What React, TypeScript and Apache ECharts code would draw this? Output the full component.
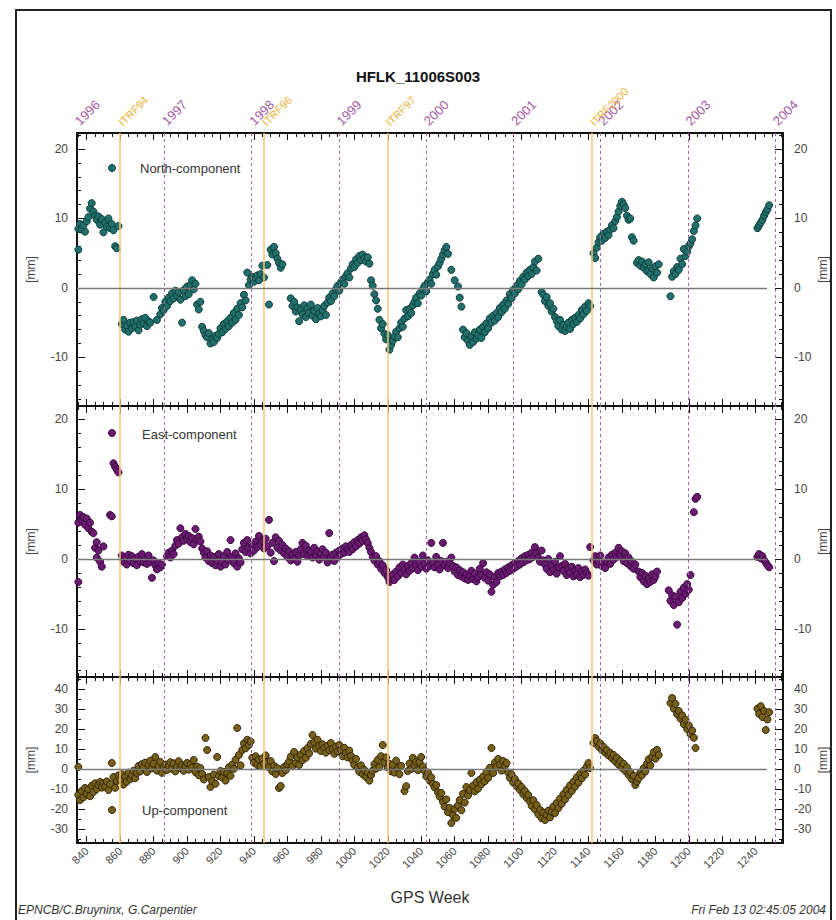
import React, { useEffect, useRef } from 'react';
import * as echarts from 'echarts';

const X_MIN = 834.2;
const X_MAX = 1256.3;
const ZERO_END = 1246.7;

const xTickLabels = [840, 860, 880, 900, 920, 940, 960, 980, 1000, 1020, 1040, 1060, 1080, 1100, 1120, 1140, 1160, 1180, 1200, 1220, 1240];
const yearLabels = ['1996', '1997', '1998', '1999', '2000', '2001', '2002', '2003', '2004'];
const yearWeeks = [834.3, 886.4, 938.6, 990.7, 1042.9, 1095.1, 1147.3, 1199.4, 1251.6];
const itrfLabels = ['ITRF94', 'ITRF96', 'ITRF97', 'ITRF2000'];
const itrfWeeks = [860, 946, 1020, 1142];

const northRange = [-17, 22.3];
const eastRange = [-16.9, 21.9];
const upRange = [-37, 46];

const northData: [number, number][] = [
  [835, 5.5], [835, 8.5], [836, 9.2], [837, 8.4], [838, 9.0], [839, 8.1], [840, 9.6], [841, 10.2], [842, 11.4], [843, 12.2],
  [844, 11.0], [845, 10.4], [846, 9.8], [847, 10.3], [848, 9.1], [849, 9.9], [850, 8.0], [851, 9.4], [852, 8.8], [853, 10.0],
  [854, 8.6], [855, 9.2], [856, 8.3], [857, 6.0], [858, 5.7], [859, 8.9],
  [861, -5.2], [862, -4.6], [863, -6.0], [864, -5.4], [865, -6.3], [866, -5.0], [867, -5.8], [868, -4.9], [869, -5.6], [870, -4.7],
  [871, -6.1], [872, -5.3], [873, -4.5], [874, -5.1], [875, -4.3], [876, -5.5], [877, -4.8], [878, -5.0], [880, -1.3], [882, -4.6],
  [884, -3.8], [885, -2.9], [886, -3.2], [887, -2.0], [888, -2.6], [889, -1.4], [890, -1.9], [891, -0.8], [892, -1.5], [893, -0.4],
  [894, -1.1], [895, -0.6], [896, -1.7], [897, -5.0], [898, -0.3], [899, -1.2], [900, 0.2], [901, -0.9], [902, 0.4], [903, 1.1],
  [904, -0.2], [905, 0.6], [906, -2.4], [907, -3.1], [908, -2.0], [909, -5.6], [910, -6.2], [911, -6.8], [912, -7.1], [913, -6.5],
  [914, -8.0], [915, -7.4], [916, -7.8], [917, -6.9], [918, -7.2], [919, -6.6], [920, -5.8], [921, -6.4], [922, -5.2], [923, -5.9],
  [924, -4.8], [925, -5.5], [926, -4.3], [927, -5.0], [928, -3.6], [929, -4.6], [930, -3.0], [931, -3.9], [932, -2.2], [933, -2.8],
  [934, -1.0], [935, -1.8], [936, 2.2], [937, 0.4], [938, 1.2], [939, 1.6], [940, 0.9], [941, 1.4], [942, 1.8], [943, 1.1],
  [944, 2.0], [945, 3.2], [946, 1.5], [948, 3.3], [949, -2.4], [950, 5.5], [951, 4.8], [952, 5.9], [953, 5.0], [954, 4.2],
  [955, 3.6], [956, 2.9], [957, 3.4], [962, -1.5], [963, -2.6], [964, -2.0], [965, -3.4], [966, -2.8], [967, -4.8], [968, -3.1],
  [969, -3.8], [970, -2.5], [971, -4.2], [972, -3.0], [973, -3.6], [974, -2.4], [975, -4.0], [976, -3.3], [977, -4.5], [978, -2.9],
  [979, -3.7], [980, -4.1], [981, -3.2], [982, -2.6], [983, -3.9], [984, -2.1], [985, -1.4], [986, -1.9], [987, -0.8], [988, -1.2],
  [989, -0.2], [990, 0.3], [991, -0.4], [992, 0.8], [993, 1.2], [994, 0.6], [995, 1.7], [996, 2.1], [997, 1.5], [998, 2.8],
  [999, 3.4], [1000, 3.0], [1001, 4.1], [1002, 3.6], [1003, 4.6], [1004, 4.0], [1005, 4.8], [1006, 4.3], [1007, 3.8], [1008, 4.4],
  [1009, 3.5], [1010, 1.1], [1011, 0.3], [1012, -0.9], [1013, -1.8], [1014, -3.0], [1015, -4.6], [1016, -5.8], [1017, -5.2], [1018, -6.6],
  [1019, -7.4], [1020, -6.8], [1021, -8.9], [1022, -8.2], [1023, -7.6], [1024, -7.0], [1025, -6.3], [1026, -7.1], [1027, -5.8], [1028, -5.0],
  [1029, -5.6], [1030, -4.4], [1031, -3.2], [1032, -4.1], [1033, -3.0], [1034, -3.6], [1035, -2.5], [1036, -2.0], [1037, -1.4], [1038, -2.2],
  [1039, -0.8], [1040, -1.1], [1041, -0.2], [1042, 0.3], [1043, -0.5], [1044, 0.8], [1045, 1.2], [1046, 0.6], [1047, 2.0], [1048, 2.6],
  [1049, 1.9], [1050, 3.1], [1051, 3.6], [1052, 4.2], [1053, 4.8], [1054, 5.4], [1055, 5.9], [1056, 4.9], [1058, 2.6], [1060, 1.1],
  [1062, 0.2], [1063, -1.4], [1064, -2.7], [1065, -6.0], [1066, -7.1], [1067, -6.5], [1068, -7.6], [1069, -8.2], [1070, -7.0], [1071, -7.8],
  [1072, -6.4], [1073, -7.3], [1074, -6.8], [1075, -6.0], [1076, -7.2], [1077, -5.6], [1078, -6.4], [1079, -5.1], [1080, -5.8], [1081, -4.4],
  [1082, -5.0], [1083, -4.0], [1084, -4.7], [1085, -3.6], [1086, -4.2], [1087, -2.9], [1088, -3.5], [1089, -2.4], [1090, -3.0], [1091, -1.8],
  [1092, -2.3], [1093, -0.9], [1094, -1.5], [1095, -0.3], [1096, -0.8], [1097, 0.3], [1098, -0.2], [1099, 1.0], [1100, 0.5], [1101, 1.6],
  [1102, 1.2], [1103, 2.2], [1104, 1.7], [1105, 2.6], [1106, 2.0], [1107, 3.0], [1108, 3.8], [1109, 2.5], [1110, 4.2], [1112, -0.6],
  [1113, -1.0], [1114, -1.9], [1115, -1.3], [1116, -2.6], [1117, -2.2], [1118, -3.4], [1119, -3.0], [1120, -4.2], [1121, -4.8], [1122, -5.5],
  [1123, -4.6], [1124, -6.0], [1125, -5.3], [1126, -6.2], [1127, -5.6], [1128, -5.0], [1129, -5.9], [1130, -4.6], [1131, -5.2], [1132, -4.3],
  [1133, -4.9], [1134, -3.9], [1135, -4.4], [1136, -3.2], [1137, -3.8], [1138, -2.7], [1139, -3.3], [1140, -2.2], [1141, -2.6],
  [1143, 5.0], [1144, 4.3], [1145, 5.8], [1146, 6.6], [1147, 7.3], [1148, 6.8], [1149, 7.8], [1150, 7.2], [1151, 8.1], [1152, 7.6],
  [1153, 8.4], [1154, 9.0], [1155, 8.6], [1156, 9.6], [1157, 10.2], [1158, 11.0], [1159, 11.8], [1160, 12.4], [1161, 12.0], [1162, 11.5],
  [1163, 10.4], [1164, 9.8], [1165, 10.0], [1166, 7.3], [1167, 6.8], [1169, 3.6], [1170, 4.0], [1171, 3.2], [1172, 3.8], [1173, 2.9],
  [1174, 3.4], [1175, 2.4], [1176, 3.7], [1177, 2.0], [1178, 2.8], [1179, 1.5], [1180, 3.1], [1181, 2.2], [1182, 3.4], [1189, -1.2],
  [1190, 1.6], [1191, 2.4], [1192, 2.0], [1193, 3.0], [1194, 2.6], [1195, 4.2], [1196, 3.4], [1197, 5.6], [1198, 4.6], [1199, 5.2],
  [1200, 6.0], [1201, 6.4], [1202, 7.0], [1203, 8.2], [1204, 9.0], [1205, 10.0],
  [1241, 8.6], [1242, 9.0], [1243, 9.4], [1244, 9.8], [1245, 10.4], [1246, 10.9], [1247, 11.3], [1248, 11.9],
];

const eastData: [number, number][] = [
  [835, -3.3], [835, 5.2], [836, 6.3], [837, 5.6], [838, 6.0], [839, 4.9], [840, 5.8], [841, 4.4], [842, 5.2], [843, 3.9],
  [844, 3.7], [845, 1.6], [846, 0.2], [846, 2.4], [847, 1.2], [848, -0.4], [849, -1.1], [850, 1.8], [854, 6.3], [855, 6.1],
  [856, 13.7], [857, 13.2], [858, 12.8], [859, 12.4],
  [861, 0.5], [862, -0.4], [863, 0.2], [864, -0.8], [865, 0.6], [866, -0.2], [867, 0.4], [868, -0.6], [869, 0.1], [870, -0.9],
  [871, 0.3], [872, -0.3], [873, 0.7], [874, -0.5], [875, 0.0], [876, -0.7], [877, 0.5], [878, -0.4], [879, -2.7], [880, -0.2],
  [881, -0.9], [882, -1.5], [883, -0.6], [884, -1.2], [885, -0.8], [888, 0.4], [889, 0.9], [890, 0.2], [891, 1.2], [892, 0.7],
  [893, 1.9], [894, 2.7], [895, 2.2], [896, 4.4], [897, 3.1], [898, 2.6], [899, 3.6], [900, 2.9], [901, 3.3], [902, 2.4],
  [903, 3.0], [904, 2.1], [905, 4.3], [906, 2.8], [907, 3.2], [908, 2.5], [909, 1.5], [910, 0.9], [911, 0.2], [912, 1.1],
  [913, -0.3], [914, 0.5], [915, -0.6], [916, 0.3], [917, -0.9], [918, -0.2], [919, 0.7], [920, -1.1], [921, -0.4], [922, 0.4],
  [923, -0.8], [924, 1.0], [925, -0.1], [926, 2.7], [927, 0.3], [928, -0.6], [929, 0.8], [930, -1.1], [931, 0.1], [932, -0.5],
  [933, 1.4], [934, 2.3], [935, 1.0], [936, 2.7], [937, 1.6], [938, 0.8], [939, 1.9], [940, 1.2], [941, 2.5], [942, 1.7],
  [943, 3.3], [944, 2.1], [945, 2.6], [946, 1.5], [947, 2.9], [948, 1.8], [949, 5.6], [950, 0.9], [951, 2.3], [952, -0.3],
  [953, 3.1], [954, 1.6], [955, 2.6], [956, 1.2], [957, 2.0], [958, 0.8], [959, 1.5], [960, 0.3], [961, 1.1], [962, -0.2],
  [963, 0.6], [964, 0.0], [965, 1.0], [966, -0.4], [967, 0.5], [968, 1.4], [969, 2.3], [970, 0.7], [971, 1.9], [972, 0.4],
  [973, 1.2], [974, 0.9], [975, 0.2], [976, 1.6], [977, 0.5], [978, 1.1], [979, -0.1], [980, 0.8], [981, 1.4], [982, 0.3],
  [983, 0.9], [984, -0.5], [985, 3.7], [986, 0.2], [987, 0.6], [988, -0.3], [989, 0.9], [990, 0.3], [991, 1.2], [992, 0.7],
  [993, 1.5], [994, 0.9], [995, 1.8], [996, 1.3], [997, 1.0], [998, 2.0], [999, 1.4], [1000, 2.4], [1001, 1.8], [1002, 2.7],
  [1003, 2.2], [1004, 3.1], [1005, 2.6], [1006, 3.4], [1007, 2.8], [1008, 2.3], [1009, 1.6], [1010, 1.0], [1011, 0.3], [1012, -0.2],
  [1013, 0.4], [1014, -0.8], [1015, -0.3], [1016, -1.4], [1017, -0.9], [1018, -2.0], [1019, -1.6], [1020, -2.6], [1021, -3.3], [1022, -2.8],
  [1023, -2.2], [1024, -3.0], [1025, -1.8], [1026, -2.5], [1027, -1.2], [1028, -2.0], [1029, -0.8], [1030, -1.5], [1031, -2.2], [1032, -1.0],
  [1033, -1.7], [1034, -0.6], [1035, -1.3], [1036, 0.2], [1037, -0.9], [1038, -1.6], [1039, -0.4], [1040, -1.1], [1041, 0.5], [1042, -0.7],
  [1043, -1.4], [1044, -0.2], [1045, -1.0], [1046, 2.3], [1047, -0.5], [1048, -1.2], [1049, 0.3], [1050, -0.8], [1051, -1.5], [1052, -0.3],
  [1053, 2.3], [1054, -0.9], [1055, -0.4], [1056, -1.3], [1057, -0.6], [1058, 0.2], [1059, -1.0], [1060, -1.8], [1061, -1.2], [1062, -2.3],
  [1063, -1.6], [1064, -2.5], [1065, -1.9], [1066, -2.8], [1067, -2.2], [1068, -3.0], [1069, -2.4], [1070, -1.7], [1071, -2.9], [1072, -2.1],
  [1073, -3.2], [1074, -2.6], [1075, -1.4], [1076, -2.3], [1077, -0.6], [1078, -2.7], [1079, -1.9], [1080, -3.1], [1081, -2.2], [1082, -4.7],
  [1083, -3.7], [1084, -2.6], [1085, -3.3], [1086, -2.0], [1087, -2.5], [1088, -1.8], [1089, -2.3], [1090, -1.5], [1091, -2.0], [1092, -1.2],
  [1093, -1.7], [1094, -0.9], [1095, -1.4], [1096, -0.6], [1097, -1.1], [1098, -0.3], [1099, -0.8], [1100, 0.1], [1101, -0.5], [1102, 0.4],
  [1103, -0.2], [1104, 0.6], [1105, 0.0], [1106, 0.9], [1107, 0.3], [1108, 1.7], [1109, 0.8], [1110, 0.2], [1111, -0.4], [1112, 1.2],
  [1113, -0.2], [1114, -0.8], [1115, -1.4], [1116, 0.0], [1117, -1.9], [1118, -0.9], [1119, -1.6], [1120, -0.4], [1121, -2.1], [1122, -1.2],
  [1123, 0.4], [1124, -1.0], [1125, -1.7], [1126, -0.7], [1127, -2.3], [1128, -1.4], [1129, -2.0], [1130, -1.1], [1131, -2.5], [1132, -1.6],
  [1133, -2.2], [1134, -1.3], [1135, -2.6], [1136, -1.8], [1137, -2.3], [1138, -1.5], [1139, -2.0], [1140, -2.4], [1141, 1.7],
  [1143, -0.2], [1144, 0.4], [1145, -0.8], [1146, -0.3], [1147, 0.5], [1148, -1.0], [1149, -0.5], [1150, -1.3], [1151, -0.4], [1152, 0.2],
  [1153, -0.7], [1154, 0.6], [1155, -0.1], [1156, 0.9], [1157, 0.3], [1158, 1.6], [1159, 0.5], [1160, 1.1], [1161, -0.3], [1162, 0.8],
  [1163, -0.6], [1164, 0.2], [1165, -1.0], [1166, -0.4], [1167, -1.4], [1168, -0.8], [1170, -1.8], [1171, -2.6], [1172, -2.0], [1173, -3.2],
  [1174, -2.4], [1175, -3.6], [1176, -2.8], [1177, -3.3], [1178, -2.2], [1179, -3.0], [1180, -2.5], [1181, -1.8],
  [1188, -4.5], [1189, -6.0], [1190, -5.2], [1191, -6.6], [1192, -5.4], [1193, -9.4], [1194, -6.2], [1195, -4.7], [1196, -5.6], [1197, -4.1],
  [1198, -5.0], [1199, -3.6], [1200, -4.4], [1201, -2.3], [1203, 6.7], [1204, 8.6], [1205, 8.9],
  [1241, 0.3], [1242, 0.7], [1243, 0.1], [1244, 0.4], [1245, -0.2], [1246, -0.5], [1247, -0.9], [1248, -1.2],
];

const upData: [number, number][] = [
  [835, 1.0], [835, -13.0], [836, -15.5], [837, -11.0], [838, -14.2], [839, -9.5], [840, -12.5], [841, -10.2], [842, -13.6], [843, -8.4],
  [844, -11.5], [845, -7.2], [846, -10.0], [847, -8.1], [848, -6.5], [849, -9.3], [850, -7.0], [851, -8.8], [852, -6.2], [853, -10.5],
  [854, -7.6], [855, 3.0], [856, -4.0], [857, -9.4], [858, -6.0], [859, -3.2], [860, -5.4], [861, -2.6], [862, -7.8], [863, -4.0],
  [864, -6.3], [865, -1.8], [866, -5.0], [867, -3.4], [868, -0.9], [869, -4.6], [870, -2.0], [871, 1.5], [872, -1.2], [873, 2.4],
  [874, 0.6], [875, 3.2], [876, -1.5], [877, 1.8], [878, 4.1], [879, 0.3], [880, 2.6], [881, 6.0], [882, -0.8], [883, 1.4],
  [884, 3.5], [885, -1.9], [886, 0.9], [887, 2.2], [888, -0.5], [889, 1.6], [890, 3.4], [891, 0.2], [892, 2.8], [893, -1.2],
  [894, 1.1], [895, 3.9], [896, 0.4], [897, 2.0], [898, -0.9], [899, 1.5], [900, 3.0], [901, -0.3], [902, 2.3], [903, 0.7],
  [904, 4.5], [905, -1.6], [906, 1.2], [907, -3.1], [908, 0.5], [909, -2.4], [910, -5.2], [911, 15.5], [912, 9.5], [913, -4.0],
  [914, -9.0], [915, -6.1], [916, -2.8], [917, -7.4], [918, 6.0], [919, -3.6], [920, -1.0], [921, -4.2], [922, -1.5], [923, -5.8],
  [924, -2.0], [925, 0.8], [926, -3.4], [927, 2.2], [928, 0.1], [929, 4.6], [930, 20.5], [931, 7.0], [932, 1.8], [933, 9.5],
  [934, 12.8], [935, 10.4], [936, 14.6], [937, 12.0], [938, 13.8], [939, 5.6], [940, 3.2], [941, 6.4], [942, 2.0], [943, 4.8],
  [944, 1.4], [945, 5.2], [946, 2.6], [947, 6.8], [948, 3.4], [949, 0.8], [950, 4.0], [951, -1.2], [952, 1.6], [953, -2.5],
  [954, 0.4], [955, -9.5], [956, -8.5], [957, -2.0], [958, 1.0], [959, -0.6], [960, 2.4], [961, 3.8], [962, 6.2], [963, 1.4],
  [964, 8.5], [965, 3.0], [966, 5.8], [967, 2.0], [968, 7.2], [969, 4.4], [970, 9.0], [971, 5.6], [972, 10.4], [973, 7.8],
  [974, 12.6], [975, 17.0], [976, 13.4], [977, 10.2], [978, 14.6], [979, 11.8], [980, 9.0], [981, 12.4], [982, 10.6], [983, 8.2],
  [984, 11.6], [985, 9.4], [986, 13.0], [987, 10.0], [988, 7.6], [989, 11.2], [990, 8.8], [991, 12.0], [992, 9.6], [993, 6.4],
  [994, 10.6], [995, 8.0], [996, 5.8], [997, 9.2], [998, 6.6], [999, 4.2], [1000, 2.0], [1001, 5.0], [1002, 0.6], [1003, -1.4],
  [1004, 1.8], [1005, -2.6], [1006, -0.4], [1007, -4.0], [1008, -1.8], [1009, -5.8], [1010, -3.0], [1011, -0.8], [1012, 2.4], [1013, 0.2],
  [1014, 4.6], [1015, 1.0], [1016, 6.4], [1017, 12.0], [1018, 3.2], [1019, 5.8], [1020, 0.8], [1021, 2.6], [1022, -1.2], [1023, 2.0],
  [1024, -1.8], [1025, 4.2], [1026, 0.4], [1027, -2.6], [1028, 1.6], [1030, -11.0], [1031, -8.6], [1032, -1.0], [1033, 2.8], [1034, 0.0],
  [1035, 5.6], [1036, 1.8], [1037, 3.6], [1038, -0.6], [1039, 3.4], [1040, 6.0], [1041, 1.2], [1042, -1.0], [1043, -3.6], [1044, -1.8],
  [1045, -5.8], [1046, -4.2], [1047, -7.4], [1048, -9.2], [1049, -8.0], [1050, -11.6], [1051, -13.8], [1052, -12.0], [1053, -16.4], [1054, -18.8],
  [1055, -15.2], [1056, -21.6], [1057, -19.4], [1058, -27.0], [1059, -23.2], [1060, -20.0], [1061, -24.4], [1062, -18.2], [1063, -15.5], [1064, -20.6],
  [1065, -12.4], [1066, -16.8], [1067, -9.0], [1068, -13.2], [1069, -10.6], [1070, -2.0], [1071, -8.4], [1072, -11.2], [1073, -6.6], [1074, -9.8],
  [1075, -5.4], [1076, -7.6], [1077, -3.8], [1078, -6.2], [1079, -1.6], [1080, -4.4], [1081, 0.6], [1082, 10.5], [1083, -2.0], [1084, 3.2],
  [1085, 1.0], [1086, 5.0], [1087, 2.2], [1088, -0.8], [1089, 4.0], [1090, 1.6], [1091, 3.0], [1092, -1.8], [1093, -4.4], [1094, -2.6],
  [1095, -6.8], [1096, -5.0], [1097, -8.6], [1098, -7.2], [1099, -10.4], [1100, -9.0], [1101, -12.6], [1102, -11.0], [1103, -14.4], [1104, -13.0],
  [1105, -16.2], [1106, -18.4], [1107, -15.6], [1108, -20.2], [1109, -18.0], [1110, -22.6], [1111, -20.4], [1112, -24.6], [1113, -21.8], [1114, -25.5],
  [1115, -23.0], [1116, -20.8], [1117, -24.2], [1118, -21.4], [1119, -18.8], [1120, -22.0], [1121, -17.0], [1122, -19.6], [1123, -14.8], [1124, -17.4],
  [1125, -12.6], [1126, -15.2], [1127, -10.4], [1128, -13.0], [1129, -8.2], [1130, -11.0], [1131, -6.4], [1132, -8.8], [1133, -4.2], [1134, -6.8],
  [1135, -2.4], [1136, -4.6], [1137, -0.8], [1138, -2.8], [1139, 1.2], [1140, 3.0], [1141, 0.4],
  [1143, 13.0], [1144, 15.5], [1145, 14.0], [1146, 11.2], [1147, 12.8], [1148, 9.6], [1149, 11.0], [1150, 8.2], [1151, 9.4], [1152, 6.8],
  [1153, 8.0], [1154, 5.4], [1155, 7.0], [1156, 3.8], [1157, 5.6], [1158, 2.2], [1159, 4.0], [1160, 0.6], [1161, 2.6], [1162, -1.0],
  [1163, 0.8], [1164, -3.0], [1165, -1.6], [1166, -5.2], [1167, -3.4], [1168, -8.0], [1169, -6.2], [1170, -4.6], [1171, -1.8], [1172, -3.0],
  [1173, 0.4], [1174, -1.2], [1175, 2.6], [1176, 4.8], [1177, 1.8], [1178, 6.0], [1179, 8.4], [1180, 5.2], [1181, 9.6], [1182, 7.0],
  [1189, 33.0], [1190, 35.5], [1191, 30.2], [1192, 32.6], [1193, 27.4], [1194, 29.0], [1195, 25.2], [1196, 26.8], [1197, 22.4], [1198, 24.6],
  [1199, 20.0], [1200, 21.8], [1201, 17.4], [1202, 19.2], [1203, 15.6], [1204, 10.5],
  [1241, 30.2], [1242, 27.6], [1243, 31.4], [1244, 26.0], [1245, 29.0], [1246, 19.5], [1247, 24.8], [1248, 28.4],
];

const FONT = 'Liberation Sans, Arial, sans-serif';
const AXIS_COLOR = '#111';
const LABEL_COLOR = '#444';

const GRIDS = [
  { left: 77, top: 133, width: 706, height: 273 },
  { left: 77, top: 406, width: 706, height: 271 },
  { left: 77, top: 677, width: 706, height: 166 },
];

function pickLabel(values: number[], labels: string[], v: number): string {
  for (let i = 0; i < values.length; i++) {
    if (Math.abs(values[i] - v) < 0.05) return labels[i];
  }
  return '';
}

function frameX(gridIndex: number, position: 'top' | 'bottom', extra: any = {}) {
  return {
    type: 'value',
    gridIndex,
    position,
    min: X_MIN,
    max: X_MAX,
    minInterval: 20,
    maxInterval: 20,
    axisLine: { show: true, onZero: false, lineStyle: { color: AXIS_COLOR, width: 2 } },
    axisTick: { show: true, inside: true, length: 7, lineStyle: { color: AXIS_COLOR, width: 1 } },
    minorTick: { show: true, splitNumber: 4, length: 4, lineStyle: { color: AXIS_COLOR, width: 1 } },
    splitLine: { show: false },
    minorSplitLine: { show: false },
    axisLabel: { show: false },
    ...extra,
  };
}

function frameY(gridIndex: number, position: 'left' | 'right', range: number[], minorSplit: number) {
  return {
    type: 'value',
    gridIndex,
    position,
    min: range[0],
    max: range[1],
    minInterval: 10,
    maxInterval: 10,
    axisLine: { show: true, onZero: false, lineStyle: { color: AXIS_COLOR, width: 2 } },
    axisTick: { show: true, inside: true, length: 8, lineStyle: { color: AXIS_COLOR, width: 1 } },
    minorTick: { show: true, splitNumber: minorSplit, length: 4, lineStyle: { color: AXIS_COLOR, width: 1 } },
    splitLine: { show: false },
    minorSplitLine: { show: false },
    axisLabel: {
      show: true,
      color: LABEL_COLOR,
      fontSize: 12,
      fontFamily: FONT,
      margin: position === 'left' ? 9 : 11,
      showMinLabel: true,
      showMaxLabel: true,
      formatter: (v: number) => (Math.abs(v % 10) < 1e-6 ? String(Math.round(v)) : ''),
    },
    name: '[mm]',
    nameLocation: 'middle',
    nameRotate: 90,
    nameGap: position === 'left' ? 40 : 34,
    nameMoveOverlap: false,
    nameTextStyle: { color: LABEL_COLOR, fontSize: 12, fontFamily: FONT },
  };
}

function guideSeries(xAxisIndex: number, yAxisIndex: number) {
  const years = yearWeeks.slice(1).map((w) => ({
    xAxis: w,
    lineStyle: { color: '#9c6a9c', type: [3, 3], width: 1 },
  }));
  const itrf = itrfWeeks.map((w) => ({
    xAxis: w,
    lineStyle: { color: '#f6c67a', type: 'solid', width: 1.5 },
  }));
  const zero = [
    { coord: [X_MIN, 0], lineStyle: { color: '#7a7a7a', type: 'solid', width: 1.3 } },
    { coord: [ZERO_END, 0] },
  ];
  return {
    type: 'scatter',
    xAxisIndex,
    yAxisIndex,
    data: [],
    z: 1,
    silent: true,
    markLine: {
      silent: true,
      symbol: ['none', 'none'],
      label: { show: false },
      animation: false,
      data: [...years, ...itrf, zero],
    },
  };
}

function pointSeries(name: string, data: [number, number][], xAxisIndex: number, yAxisIndex: number, color: string, border: string) {
  return {
    type: 'scatter',
    name,
    xAxisIndex,
    yAxisIndex,
    data,
    z: 3,
    symbol: 'circle',
    symbolSize: 7,
    itemStyle: { color, borderColor: border, borderWidth: 1, opacity: 1 },
    emphasis: { disabled: true },
  };
}

const NORTH_COLOR = '#22706c';
const EAST_COLOR = '#6a1a70';
const UP_COLOR = '#76601a';

export default function App() {
  const ref = useRef<HTMLDivElement>(null);

  useEffect(() => {
    if (!ref.current) return;
    const chart = echarts.init(ref.current, undefined, { renderer: 'svg' });
    const option: any = {
      animation: false,
      backgroundColor: '#ffffff',
      textStyle: { fontFamily: FONT },
      title: {
        text: 'HFLK_11006S003',
        left: 'center',
        top: 64,
        textStyle: { fontSize: 15, fontWeight: 'bold', color: '#111', fontFamily: FONT },
      },
      grid: GRIDS.map((g) => ({ ...g, containLabel: false, outerBoundsMode: 'none' })),
      xAxis: [
        frameX(0, 'bottom'),
        frameX(0, 'top'),
        {
          type: 'value', gridIndex: 0, position: 'top', min: X_MIN, max: X_MAX,
          axisLine: { show: false, onZero: false }, axisTick: { show: false }, splitLine: { show: false },
          axisLabel: {
            show: true, customValues: yearWeeks, rotate: -45, margin: 10,
            color: '#a35ca3', fontSize: 13, fontFamily: FONT,
            formatter: (v: number) => pickLabel(yearWeeks, yearLabels, v),
          },
        },
        {
          type: 'value', gridIndex: 0, position: 'top', min: X_MIN, max: X_MAX,
          axisLine: { show: false, onZero: false }, axisTick: { show: false }, splitLine: { show: false },
          axisLabel: {
            show: true, customValues: itrfWeeks, rotate: -45, margin: 9,
            color: '#f0b030', fontSize: 11, fontFamily: FONT,
            formatter: (v: number) => pickLabel(itrfWeeks, itrfLabels, v),
          },
        },
        frameX(1, 'bottom'),
        frameX(1, 'top'),
        frameX(2, 'bottom', {
          axisLabel: {
            show: true, rotate: 45, margin: 6, color: LABEL_COLOR, fontSize: 11, fontFamily: FONT,
            showMinLabel: true, showMaxLabel: true,
            formatter: (v: number) => (xTickLabels.indexOf(Math.round(v)) >= 0 && Math.abs(v - Math.round(v)) < 1e-6 ? String(Math.round(v)) : ''),
          },
          name: 'GPS Week',
          nameLocation: 'middle',
          nameGap: 46,
          nameMoveOverlap: false,
          nameTextStyle: { color: '#333', fontSize: 16, fontFamily: FONT },
        }),
        frameX(2, 'top'),
      ],
      yAxis: [
        frameY(0, 'left', northRange, 5),
        frameY(0, 'right', northRange, 5),
        frameY(1, 'left', eastRange, 5),
        frameY(1, 'right', eastRange, 5),
        frameY(2, 'left', upRange, 2),
        frameY(2, 'right', upRange, 2),
      ],
      series: [
        guideSeries(0, 0),
        guideSeries(4, 2),
        guideSeries(6, 4),
        pointSeries('North-component', northData, 0, 0, NORTH_COLOR, '#0c3c3a'),
        pointSeries('East-component', eastData, 4, 2, EAST_COLOR, '#3a0840'),
        pointSeries('Up-component', upData, 6, 4, UP_COLOR, '#302406'),
      ],
      graphic: [
        {
          type: 'rect', silent: true, z: 100,
          shape: { x: 16, y: 10, width: 815, height: 940 },
          style: { fill: 'none', stroke: '#222', lineWidth: 2 },
        },
        { type: 'circle', shape: { cx: 112, cy: 168, r: 3.5 }, style: { fill: NORTH_COLOR, stroke: '#0c3c3a', lineWidth: 1 }, z: 50 },
        { type: 'text', x: 140, y: 168, style: { text: 'North-component', fill: '#333', fontSize: 13, fontFamily: FONT, verticalAlign: 'middle' }, z: 50 },
        { type: 'circle', shape: { cx: 112, cy: 433, r: 3.5 }, style: { fill: EAST_COLOR, stroke: '#3a0840', lineWidth: 1 }, z: 50 },
        { type: 'text', x: 142, y: 434, style: { text: 'East-component', fill: '#333', fontSize: 13, fontFamily: FONT, verticalAlign: 'middle' }, z: 50 },
        { type: 'circle', shape: { cx: 112, cy: 810, r: 3.5 }, style: { fill: UP_COLOR, stroke: '#302406', lineWidth: 1 }, z: 50 },
        { type: 'text', x: 142, y: 810, style: { text: 'Up-component', fill: '#333', fontSize: 13, fontFamily: FONT, verticalAlign: 'middle' }, z: 50 },
        { type: 'text', x: 18, y: 910, style: { text: 'EPNCB/C.Bruyninx, G.Carpentier', fill: '#333', fontSize: 12, fontStyle: 'italic', fontFamily: FONT, verticalAlign: 'middle' }, z: 50 },
        { type: 'text', x: 826, y: 910, style: { text: 'Fri Feb 13 02:45:05 2004', fill: '#333', fontSize: 12, fontStyle: 'italic', fontFamily: FONT, align: 'right', verticalAlign: 'middle' }, z: 50 },
      ],
    };
    chart.setOption(option);
    return () => chart.dispose();
  }, []);

  return (
    <div
      ref={ref}
      style={{ position: 'absolute', left: 0, top: 0, width: 836, height: 920, background: '#fff' }}
    />
  );
}
